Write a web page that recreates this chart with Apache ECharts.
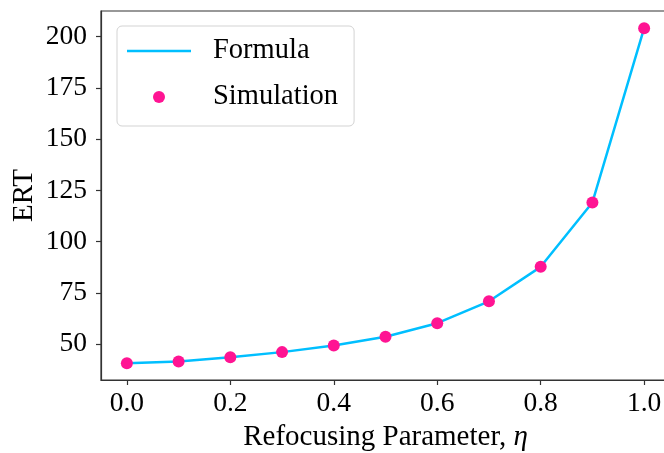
<!DOCTYPE html>
<html>
<head>
<meta charset="utf-8">
<script src="https://cdn.jsdelivr.net/npm/echarts@6/dist/echarts.min.js"></script>
<style>
html,body{margin:0;padding:0;background:#fff;}
#chart{width:664px;height:453px;}
</style>
</head>
<body>
<div id="chart"></div>
<script>
const etaValues = [0.0, 0.1, 0.2, 0.3, 0.4, 0.5, 0.6, 0.7, 0.8, 0.9, 1.0];
const formulaValues = [40.7, 41.5, 43.6, 46.1, 49.3, 53.6, 60.2, 70.9, 87.7, 119.1, 204.1];
const simulationValues = [40.7, 41.5, 43.6, 46.1, 49.3, 53.6, 60.2, 70.9, 87.7, 119.1, 204.1];
const xTicks = [0.0, 0.2, 0.4, 0.6, 0.8, 1.0];
const yTicks = [50, 75, 100, 125, 150, 175, 200];

const FONT = 'Liberation Serif';
const chart = echarts.init(document.getElementById('chart'), null, {renderer: 'canvas'});
chart.setOption({
  animation: false,
  backgroundColor: '#fff',
  grid: {
    left: 101, top: 11, width: 569, height: 369,
    outerBoundsMode: 'none', containLabel: false,
    show: true, borderColor: '#333', borderWidth: 1.2, backgroundColor: 'transparent'
  },
  legend: {
    left: 117, top: 26, orient: 'vertical',
    padding: [10, 16, 14, 10],
    itemWidth: 64, itemHeight: 12, itemGap: 16,
    backgroundColor: 'rgba(255,255,255,0.8)',
    borderColor: '#d3d3d3', borderWidth: 1, borderRadius: 5,
    textStyle: {fontFamily: FONT, fontSize: 28.5, color: '#000', lineHeight: 30, padding: [0, 0, 0, 17]},
    data: [
      {name: 'Formula', icon: 'path://M0,0 L64,0 L64,0.01 Z M0,4.8 L64,4.8 L64,7.2 L0,7.2 Z M0,12 L64,12 L64,11.99 Z'},
      {name: 'Simulation'}
    ]
  },
  xAxis: {
    type: 'value', min: -0.05, max: 1.05,
    name: 'Refocusing Parameter, {i|η}', nameLocation: 'middle', nameGap: 43,
    nameTextStyle: {fontFamily: FONT, fontSize: 29, color: '#000',
      rich: {i: {fontFamily: FONT, fontSize: 29, fontStyle: 'italic', color: '#000'}}},
    axisLine: {show: true, onZero: false, lineStyle: {color: '#333', width: 1.2}},
    axisTick: {show: true, length: 5, lineStyle: {color: '#333', width: 1.2}, customValues: xTicks},
    axisLabel: {fontFamily: FONT, fontSize: 27.5, color: '#000', margin: 10, customValues: xTicks,
      formatter: v => Number(v).toFixed(1)},
    splitLine: {show: false}
  },
  yAxis: {
    type: 'value', min: 32.5, max: 212.5,
    name: 'ERT', nameLocation: 'middle', nameGap: 62, nameRotate: 90, nameMoveOverlap: false,
    nameTextStyle: {fontFamily: FONT, fontSize: 29, color: '#000'},
    axisLine: {show: true, onZero: false, lineStyle: {color: '#333', width: 1.2}},
    axisTick: {show: true, length: 5, lineStyle: {color: '#333', width: 1.2}, customValues: yTicks},
    axisLabel: {fontFamily: FONT, fontSize: 27.5, color: '#000', margin: 14, customValues: yTicks,
      formatter: v => String(v)},
    splitLine: {show: false}
  },
  series: [
    {
      name: 'Formula', type: 'line', symbol: 'none',
      data: etaValues.map((x, i) => [x, formulaValues[i]]),
      lineStyle: {color: '#00BFFF', width: 2.5}, itemStyle: {color: '#00BFFF'}, z: 2
    },
    {
      name: 'Simulation', type: 'scatter', symbol: 'circle', symbolSize: 12,
      data: etaValues.map((x, i) => [x, simulationValues[i]]),
      itemStyle: {color: '#FF1493', opacity: 1}, z: 3
    }
  ]
});
</script>
</body>
</html>
